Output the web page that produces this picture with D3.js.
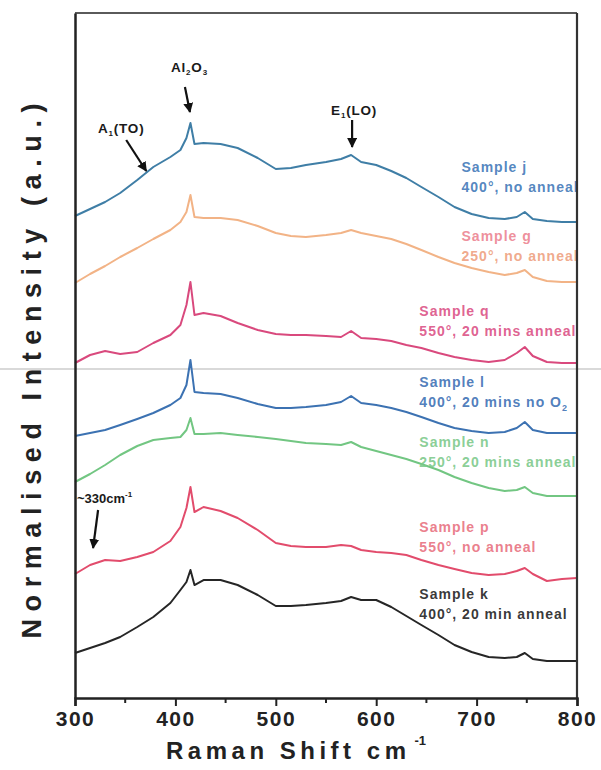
<!DOCTYPE html>
<html>
<head>
<meta charset="utf-8">
<script src="https://cdn.jsdelivr.net/npm/d3@7"></script>
<style>
  html, body { margin: 0; padding: 0; background: #fff; }
  svg { display: block; }
  text { font-family: "Liberation Sans", Arial, sans-serif; }
</style>
</head>
<body>
<svg id="chart" width="601" height="770"></svg>
<script>
// Raman shift sampling points (cm^-1)
const shifts = [300, 315, 330, 345, 362, 378, 395, 405, 411, 415, 419, 428, 445, 462, 482, 500, 515, 530, 550, 565, 575, 585, 600, 615, 630, 645, 662, 678, 695, 712, 728, 740, 748, 756, 770, 785, 800];

// Offset, normalised spectra (a.u.), top to bottom
const sampleJ = [48.2, 48.9, 49.6, 50.5, 51.8, 53.1, 54.1, 54.8, 56.0, 57.5, 55.4, 55.5, 55.4, 55.0, 54.0, 52.9, 53.0, 53.3, 53.6, 53.9, 54.3, 53.6, 53.3, 52.7, 52.0, 51.1, 50.1, 49.1, 48.4, 48.0, 47.9, 48.1, 48.6, 47.9, 47.7, 47.6, 47.6];
const sampleG = [41.5, 42.4, 43.2, 44.1, 45.0, 45.9, 46.8, 47.6, 48.6, 50.3, 48.1, 48.0, 48.0, 47.8, 47.2, 46.5, 46.2, 46.1, 46.3, 46.5, 46.8, 46.5, 46.2, 45.9, 45.4, 44.8, 44.1, 43.5, 43.0, 42.6, 42.3, 42.5, 42.8, 42.1, 41.7, 41.6, 41.6];
const sampleQ = [33.5, 34.3, 34.7, 34.4, 34.6, 35.5, 36.3, 37.3, 39.3, 41.6, 38.3, 38.5, 38.2, 37.5, 36.8, 36.4, 36.3, 36.3, 36.2, 36.1, 36.7, 36.0, 35.9, 35.7, 35.3, 35.0, 34.5, 34.1, 33.8, 33.6, 33.8, 34.5, 35.1, 34.2, 33.6, 33.5, 33.5];
const sampleL = [26.2, 26.5, 26.8, 27.3, 27.9, 28.5, 29.3, 30.0, 31.3, 33.8, 30.6, 30.5, 30.4, 30.0, 29.4, 29.0, 29.0, 29.1, 29.3, 29.6, 30.2, 29.5, 29.3, 29.0, 28.6, 28.1, 27.5, 27.0, 26.7, 26.5, 26.6, 27.0, 27.6, 26.8, 26.5, 26.5, 26.5];
const sampleN = [21.6, 22.4, 23.3, 24.3, 25.2, 25.8, 26.0, 26.1, 26.8, 28.0, 26.4, 26.4, 26.5, 26.3, 26.1, 25.9, 25.7, 25.5, 25.4, 25.3, 25.6, 25.1, 24.7, 24.3, 23.9, 23.4, 22.8, 22.1, 21.5, 21.0, 20.7, 20.8, 21.1, 20.5, 20.2, 20.2, 20.2];
const sampleP = [12.4, 13.3, 13.8, 13.7, 14.1, 14.6, 15.7, 17.1, 19.0, 21.1, 18.6, 19.1, 18.7, 18.0, 16.8, 15.5, 15.2, 15.1, 15.1, 15.3, 15.2, 14.8, 14.6, 14.5, 14.3, 13.8, 13.3, 12.9, 12.5, 12.3, 12.4, 12.7, 13.0, 12.4, 11.7, 11.9, 12.0];
const sampleK = [4.5, 5.0, 5.5, 6.1, 7.1, 8.1, 9.5, 10.8, 11.6, 12.8, 11.3, 11.8, 11.8, 11.3, 10.3, 9.2, 9.2, 9.3, 9.5, 9.7, 10.1, 9.8, 9.8, 9.1, 8.2, 7.3, 6.3, 5.3, 4.6, 4.1, 4.0, 4.1, 4.5, 3.9, 3.7, 3.7, 3.7];

const seriesValues = [sampleJ, sampleG, sampleQ, sampleL, sampleN, sampleP, sampleK];
const seriesColors = ["#3f7ea6", "#f2b386", "#d9497d", "#3c72b2", "#72c682", "#e24c6c", "#262626"];

// Sample labels: two lines each, placed in data coordinates
const labelLine1 = ["Sample j", "Sample g", "Sample q", "Sample l", "Sample n", "Sample p", "Sample k"];
const labelLine2 = ["400°, no anneal", "250°, no anneal", "550°, 20 mins anneal", "400°, 20 mins no O", "250°, 20 mins anneal", "550°, no anneal", "400°, 20 min anneal"];
const labelShift = [685, 685, 643, 643, 643, 643, 643];
const labelLevel = [52.6, 45.7, 38.2, 31.1, 25.1, 16.6, 9.9];
const labelColors1 = ["#3f78b8", "#ec8290", "#db4f84", "#3c6fb4", "#7cc98a", "#e8707e", "#1e1e1e"];
const labelColors2 = ["#3f78b8", "#eea07e", "#db4f84", "#3c6fb4", "#7cc98a", "#e8707e", "#1e1e1e"];

// Axis ticks
const xTicksMajor = [300, 400, 500, 600, 700, 800];
const xTicksMinor = [350, 450, 550, 650, 750];

const svg = d3.select("#chart");
const plotLeft = 75, plotRight = 577, plotTop = 13, plotBottom = 698;

const x = d3.scaleLinear().domain([300, 800]).range([plotLeft, plotRight]);
const y = d3.scaleLinear().domain([0, 68.5]).range([plotBottom, plotTop]);

// Light seam line across the page
svg.append("line").attr("x1", 0).attr("x2", 601).attr("y1", 369).attr("y2", 369)
  .attr("stroke", "#d9d9d9").attr("stroke-width", 2);

// Spectra
const line = d3.line()
  .x((d, i) => x(shifts[i]))
  .y(d => y(d));

svg.append("g")
  .selectAll("path")
  .data(seriesValues)
  .join("path")
  .attr("d", d => line(d))
  .attr("fill", "none")
  .attr("stroke", (d, i) => seriesColors[i])
  .attr("stroke-width", 2)
  .attr("stroke-linejoin", "round");

// Sample labels
const labels = svg.append("g")
  .attr("font-size", 14)
  .attr("font-weight", "bold")
  .attr("letter-spacing", 1);

labelLine1.forEach((t, i) => {
  labels.append("text")
    .attr("x", x(labelShift[i]))
    .attr("y", y(labelLevel[i]))
    .attr("fill", labelColors1[i])
    .attr("fill-opacity", 0.9)
    .text(t);
  const t2 = labels.append("text")
    .attr("x", x(labelShift[i]))
    .attr("y", y(labelLevel[i]) + 20)
    .attr("fill", labelColors2[i])
    .attr("fill-opacity", 0.9)
    .text(labelLine2[i]);
  if (i === 3) {
    t2.append("tspan").attr("font-size", 9).attr("dy", 4).text("2");
  }
});

// Peak annotations: label position and arrow (from -> to) in data coordinates
const annoText = [
  { parts: [["A", 0], ["1", 1], ["(TO)", 0]], sx: 346, iy: 56.5, anchor: "middle" },
  { parts: [["Al", 0], ["2", 1], ["O", 0], ["3", 1]], sx: 414, iy: 62.6, anchor: "middle" },
  { parts: [["E", 0], ["1", 1], ["(LO)", 0]], sx: 578, iy: 58.3, anchor: "middle" },
  { parts: [["~330cm", 0], ["-1", -1]], sx: 302, iy: 19.5, anchor: "start" }
];
const arrowFrom = [[351, 55.8], [409.5, 61.1], [576, 57.8], [323, 18.8]];
const arrowTo = [[371, 52.7], [414.5, 58.6], [576, 55.1], [318, 15.0]];

const defs = svg.append("defs");
defs.append("marker")
  .attr("id", "head")
  .attr("viewBox", "0 0 10 10")
  .attr("refX", 9).attr("refY", 5)
  .attr("markerWidth", 4.5).attr("markerHeight", 4.5)
  .attr("orient", "auto")
  .append("path")
  .attr("d", "M0,0 L10,5 L0,10 z")
  .attr("fill", "#111");

const offsetOf = kind => (kind === 1 ? 3 : kind === -1 ? -6 : 0);
const anno = svg.append("g").attr("font-size", 13.5).attr("font-weight", "bold")
  .attr("fill", "#1a1a1a");
annoText.forEach((a, i) => {
  const t = anno.append("text")
    .attr("x", x(a.sx))
    .attr("y", y(a.iy))
    .attr("text-anchor", a.anchor)
    .attr("letter-spacing", i === 3 ? 0 : 0.8)
    .attr("font-size", i === 3 ? 13 : 13.5);
  a.parts.forEach(([s, kind], k) => {
    const prev = k > 0 ? a.parts[k - 1][1] : 0;
    const sp = t.append("tspan").text(s).attr("dy", offsetOf(kind) - offsetOf(prev));
    if (kind !== 0) sp.attr("font-size", 8);
  });
});

svg.append("g")
  .selectAll("line")
  .data(arrowFrom)
  .join("line")
  .attr("x1", d => x(d[0]))
  .attr("y1", d => y(d[1]))
  .attr("x2", (d, i) => x(arrowTo[i][0]))
  .attr("y2", (d, i) => y(arrowTo[i][1]))
  .attr("stroke", "#111")
  .attr("stroke-width", 2.2)
  .attr("marker-end", "url(#head)");

// Frame
svg.append("line").attr("x1", plotLeft).attr("x2", plotRight).attr("y1", plotTop).attr("y2", plotTop)
  .attr("stroke", "#5a5a5a").attr("stroke-width", 2);
svg.append("line").attr("x1", plotRight).attr("x2", plotRight).attr("y1", plotTop).attr("y2", plotBottom)
  .attr("stroke", "#333").attr("stroke-width", 2.2);

// Axes
const xAxis = d3.axisBottom(x).tickValues(xTicksMajor).tickSize(8).tickPadding(5).tickFormat(d3.format("d"));
const gx = svg.append("g").attr("transform", `translate(0,${plotBottom})`).call(xAxis);
gx.select(".domain").attr("stroke", "#222").attr("stroke-width", 2.5);
gx.selectAll(".tick line").attr("stroke", "#222").attr("stroke-width", 2);
gx.selectAll(".tick text")
  .attr("font-size", 21).attr("font-weight", "bold").attr("fill", "#222")
  .attr("font-family", "'Liberation Sans', Arial, sans-serif")
  .attr("letter-spacing", 1.5);

svg.append("g").attr("transform", `translate(0,${plotBottom})`)
  .selectAll("line").data(xTicksMinor).join("line")
  .attr("x1", d => x(d)).attr("x2", d => x(d))
  .attr("y1", 0).attr("y2", 5)
  .attr("stroke", "#222").attr("stroke-width", 2);

const yAxis = d3.axisLeft(y).tickValues([]).tickSize(0);
const gy = svg.append("g").attr("transform", `translate(${plotLeft},0)`).call(yAxis);
gy.select(".domain").attr("stroke", "#222").attr("stroke-width", 2.5);

// Axis titles
const xt = svg.append("text")
  .attr("x", 166).attr("y", 759)
  .attr("font-size", 24).attr("font-weight", "bold").attr("fill", "#222");
xt.append("tspan").attr("textLength", 240).attr("lengthAdjust", "spacing").text("Raman Shift cm");
xt.append("tspan").attr("font-size", 13).attr("dx", 4).attr("dy", -14).text("-1");

svg.append("text")
  .attr("transform", "translate(41,371) rotate(-90)")
  .attr("text-anchor", "middle")
  .attr("font-size", 27).attr("font-weight", "bold").attr("fill", "#222")
  .attr("textLength", 535).attr("lengthAdjust", "spacing")
  .text("Normalised Intensity (a.u.)");
</script>
</body>
</html>
